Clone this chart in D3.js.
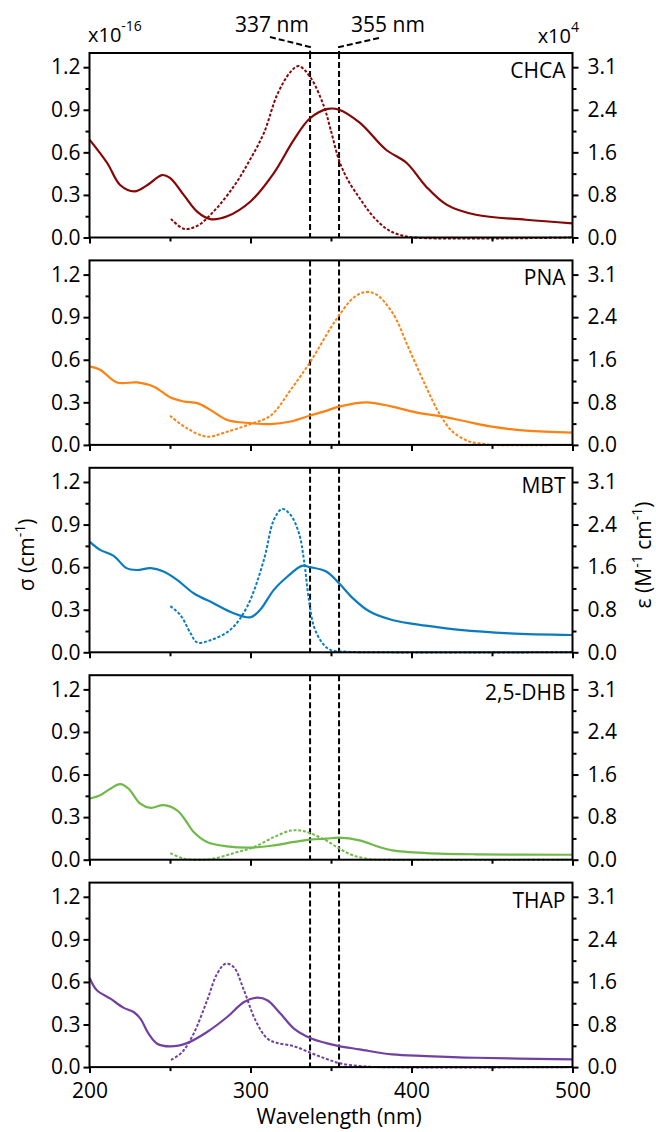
<!DOCTYPE html>
<html>
<head>
<meta charset="utf-8">
<script src="https://cdn.jsdelivr.net/npm/d3@7"></script>
<style>
    body { margin: 0; background: #fff; }
    text { font-family: "Open Sans", sans-serif; fill: #000; }
</style>
</head>
<body>
<svg id="chart" width="656" height="1132"></svg>
<script>
// compound names and colours, top to bottom
const compounds = ['CHCA', 'PNA', 'MBT', '2,5-DHB', 'THAP'];
const colors = ['#860606', '#ff8112', '#0a7bc1', '#6fb949', '#7140a2'];

// sigma (x10^-16 cm^-1), solid lines, [nm, value]
const chcaSigma = [[200,0.69],[211,0.525],[219,0.37],[228,0.325],[236,0.37],[245,0.44],[250,0.42],[258.5,0.30],[267,0.18],[275,0.13],[285.5,0.15],[300,0.254],[314.5,0.454],[327,0.69],[337,0.84],[348,0.906],[355,0.90],[368,0.807],[384,0.62],[397,0.525],[409,0.36],[422,0.23],[440,0.16],[471,0.125],[500,0.10]];
const pnaSigma = [[200,0.553],[206.6,0.53],[217,0.44],[229.5,0.44],[240,0.41],[250,0.336],[258.5,0.306],[267,0.294],[275,0.247],[285.5,0.176],[300,0.153],[312,0.146],[325,0.165],[337,0.207],[347,0.24],[355,0.27],[372,0.30],[388,0.27],[405,0.224],[417,0.205],[434,0.165],[450,0.129],[471,0.10],[500,0.087]];
const mbtSigma = [[200,0.78],[206.6,0.722],[215,0.68],[223,0.593],[229.5,0.58],[238,0.593],[246,0.569],[254.4,0.51],[264.7,0.416],[277,0.346],[289.6,0.275],[300,0.247],[306,0.299],[314.5,0.44],[323,0.534],[332,0.609],[337,0.60],[347,0.569],[355,0.487],[363.6,0.381],[374,0.287],[388,0.228],[409,0.188],[430,0.158],[461,0.134],[500,0.122]];
const dhbSigma = [[200,0.43],[206.6,0.454],[213,0.50],[219,0.532],[224.3,0.50],[231.5,0.395],[238,0.365],[246,0.384],[254.4,0.348],[259.6,0.278],[264.7,0.195],[273,0.125],[285.5,0.094],[300,0.085],[314.5,0.101],[327,0.125],[337,0.141],[347,0.148],[355,0.155],[367.7,0.136],[380,0.089],[388,0.066],[409,0.047],[440,0.038],[500,0.035]];
const thapSigma = [[200,0.63],[204.6,0.541],[213,0.482],[221,0.419],[227.4,0.388],[231.6,0.341],[236.7,0.235],[242,0.165],[250,0.146],[260.6,0.169],[273,0.247],[285.5,0.353],[296,0.459],[304,0.489],[310.4,0.471],[318.7,0.376],[327,0.271],[337,0.205],[347,0.169],[355,0.148],[367.7,0.125],[388,0.089],[409,0.078],[440,0.066],[500,0.054]];

// epsilon (x10^4 M^-1 cm^-1), dotted lines, [nm, value]
const chcaEps = [[250.6,0.34],[258.5,0.16],[266.8,0.21],[277,0.47],[289.6,0.93],[299,1.38],[308.3,1.90],[316.6,2.60],[325,3.02],[330,3.12],[337.3,2.91],[345.6,2.39],[349.8,1.96],[355.3,1.38],[361,1.02],[367.7,0.72],[374,0.46],[380.2,0.26],[386,0.13],[392.6,0.05],[401,0],[500,0]];
const pnaEps = [[250,0.53],[260.6,0.30],[273,0.15],[285.5,0.24],[300,0.38],[312.4,0.53],[324.9,1.00],[337.3,1.52],[349.8,2.13],[355.3,2.37],[363.6,2.67],[370.8,2.78],[378,2.74],[388.3,2.40],[398.7,1.73],[409,1.06],[417.3,0.57],[425.6,0.24],[436,0.06],[444,0.02],[450,0],[500,0]];
const mbtEps = [[250.2,0.84],[256.4,0.68],[262.7,0.35],[266.8,0.18],[275.1,0.22],[287.5,0.41],[297.9,0.83],[308.3,1.68],[314.5,2.41],[319.7,2.61],[324.9,2.50],[330.1,2.17],[333.2,1.68],[336.3,0.95],[339.4,0.47],[344.6,0.17],[349.8,0.04],[360,0.01],[380,0],[500,0]];
const dhbEps = [[250.2,0.12],[258.5,0.02],[268.9,0],[277.2,0.02],[289.6,0.12],[302.1,0.23],[314.5,0.41],[324.9,0.53],[331.1,0.53],[337.3,0.48],[347,0.35],[355.3,0.20],[363.6,0.08],[374,0.01],[380,0],[500,0]];
const thapEps = [[250.6,0.13],[257.5,0.27],[264.7,0.61],[273,1.21],[279.3,1.70],[284.5,1.88],[289.6,1.82],[295.9,1.40],[303.1,0.85],[310.4,0.52],[316.6,0.44],[327,0.38],[337.3,0.26],[347,0.15],[355.3,0.07],[367.7,0.02],[380,0],[500,0]];

const sigmaSets = [chcaSigma, pnaSigma, mbtSigma, dhbSigma, thapSigma];
const epsSets = [chcaEps, pnaEps, mbtEps, dhbEps, thapEps];

// ticks
const xTicks = [200, 300, 400, 500];
const xMinor = [250, 350, 450];
const leftTicks = [0, 0.3, 0.6, 0.9, 1.2];
const leftMinor = [0.15, 0.45, 0.75, 1.05];
const rightTicks = [0, 0.775, 1.55, 2.325, 3.1];
const rightTickLabels = ['0.0', '0.8', '1.6', '2.4', '3.1'];
const rightMinor = [0.3875, 1.1625, 1.9375, 2.7125];
const laserLines = [337, 355];

const svg = d3.select('#chart');

const x = d3.scaleLinear().domain([200, 500]).range([89.5, 572.5]);
const panelTop0 = 53;
const panelStep = 207.4;
const panelH = 184.5;

const specLine = (y) => d3.line()
    .x(d => x(d[0]))
    .y(d => y(Math.max(0, d[1])))
    .curve(d3.curveCatmullRom.alpha(0.5));

compounds.forEach((name, i) => {
    const top = panelTop0 + i * panelStep;
    const bottom = top + panelH;
    const y = d3.scaleLinear().domain([0, 1.3]).range([bottom, top]);
    const yR = d3.scaleLinear().domain([0, 1.3 * 3.1 / 1.2]).range([bottom, top]);
    const g = svg.append('g');

    // dashed laser wavelengths
    laserLines.forEach(w => {
        g.append('line')
            .attr('x1', x(w)).attr('x2', x(w))
            .attr('y1', top).attr('y2', bottom)
            .attr('stroke', '#000')
            .attr('stroke-width', 2)
            .attr('stroke-dasharray', '6,3');
    });

    // epsilon (dotted)
    g.append('path')
        .datum(epsSets[i])
        .attr('d', specLine(yR))
        .attr('fill', 'none')
        .attr('stroke', colors[i])
        .attr('stroke-width', 2)
        .attr('stroke-dasharray', '3,1.8');

    // sigma (solid)
    g.append('path')
        .datum(sigmaSets[i])
        .attr('d', specLine(y))
        .attr('fill', 'none')
        .attr('stroke', colors[i])
        .attr('stroke-width', 2.2);

    // frame
    g.append('rect')
        .attr('x', x(200)).attr('y', top)
        .attr('width', x(500) - x(200)).attr('height', panelH)
        .attr('fill', 'none')
        .attr('stroke', '#000')
        .attr('stroke-width', 2);

    // left axis
    g.append('g').attr('transform', `translate(${x(200)},0)`)
        .call(d3.axisLeft(y).tickValues(leftTicks).tickSize(6).tickPadding(3).tickFormat(d3.format('.1f')));
    g.append('g').attr('transform', `translate(${x(200)},0)`)
        .call(d3.axisLeft(y).tickValues(leftMinor).tickSize(4).tickFormat(''));

    // right axis
    g.append('g').attr('transform', `translate(${x(500)},0)`)
        .call(d3.axisRight(yR).tickValues(rightTicks).tickSize(6).tickPadding(9)
            .tickFormat((d, k) => rightTickLabels[k]));
    g.append('g').attr('transform', `translate(${x(500)},0)`)
        .call(d3.axisRight(yR).tickValues(rightMinor).tickSize(4).tickFormat(''));

    // bottom axis
    g.append('g').attr('transform', `translate(0,${bottom})`)
        .call(d3.axisBottom(x).tickValues(xTicks).tickSize(6).tickPadding(10)
            .tickFormat(i === compounds.length - 1 ? d3.format('d') : ''));
    g.append('g').attr('transform', `translate(0,${bottom})`)
        .call(d3.axisBottom(x).tickValues(xMinor).tickSize(4).tickFormat(''));

    g.selectAll('.domain').remove();
    g.selectAll('.tick line').attr('stroke', '#000').attr('stroke-width', 2);
    g.selectAll('.tick text').attr('font-size', 21).attr('fill', '#000');

    // compound label
    g.append('text')
        .attr('x', x(500) - 7).attr('y', top + 25)
        .attr('text-anchor', 'end')
        .attr('font-size', 21)
        .text(name);
});

// laser labels and leaders on top
const firstTop = panelTop0;
svg.append('path')
    .attr('d', `M270,37 L${x(337)},47 L${x(337)},${firstTop}`)
    .attr('fill', 'none').attr('stroke', '#000').attr('stroke-width', 2).attr('stroke-dasharray', '6,3');
svg.append('path')
    .attr('d', `M379,38 L${x(355)},47 L${x(355)},${firstTop}`)
    .attr('fill', 'none').attr('stroke', '#000').attr('stroke-width', 2).attr('stroke-dasharray', '6,3');
svg.append('text').attr('x', 272).attr('y', 32).attr('text-anchor', 'middle').attr('font-size', 21).text('337 nm');
svg.append('text').attr('x', 388).attr('y', 32).attr('text-anchor', 'middle').attr('font-size', 21).text('355 nm');

// multipliers
const mulL = svg.append('text').attr('x', 88).attr('y', 42).attr('font-size', 20);
mulL.append('tspan').text('x10');
mulL.append('tspan').attr('dy', -11).attr('font-size', 14).text('-16');
const mulR = svg.append('text').attr('x', 579).attr('y', 43).attr('font-size', 20).attr('text-anchor', 'end');
mulR.append('tspan').text('x10');
mulR.append('tspan').attr('dy', -11).attr('font-size', 14).text('4');

// axis titles
const midY = 555;
const tL = svg.append('text')
    .attr('transform', `translate(34,${midY}) rotate(-90)`)
    .attr('text-anchor', 'middle').attr('font-size', 21);
tL.append('tspan').text('σ (cm');
tL.append('tspan').attr('dy', -9).attr('font-size', 14).text('-1');
tL.append('tspan').attr('dy', 9).text(')');

const tR = svg.append('text')
    .attr('transform', `translate(651,${midY}) rotate(-90)`)
    .attr('text-anchor', 'middle').attr('font-size', 21);
tR.append('tspan').text('ε (M');
tR.append('tspan').attr('dy', -9).attr('font-size', 14).text('-1');
tR.append('tspan').attr('dy', 9).text(' cm');
tR.append('tspan').attr('dy', -9).attr('font-size', 14).text('-1');
tR.append('tspan').attr('dy', 9).text(')');

svg.append('text')
    .attr('x', 339).attr('y', 1124)
    .attr('text-anchor', 'middle').attr('font-size', 21)
    .text('Wavelength (nm)');
</script>
</body>
</html>
